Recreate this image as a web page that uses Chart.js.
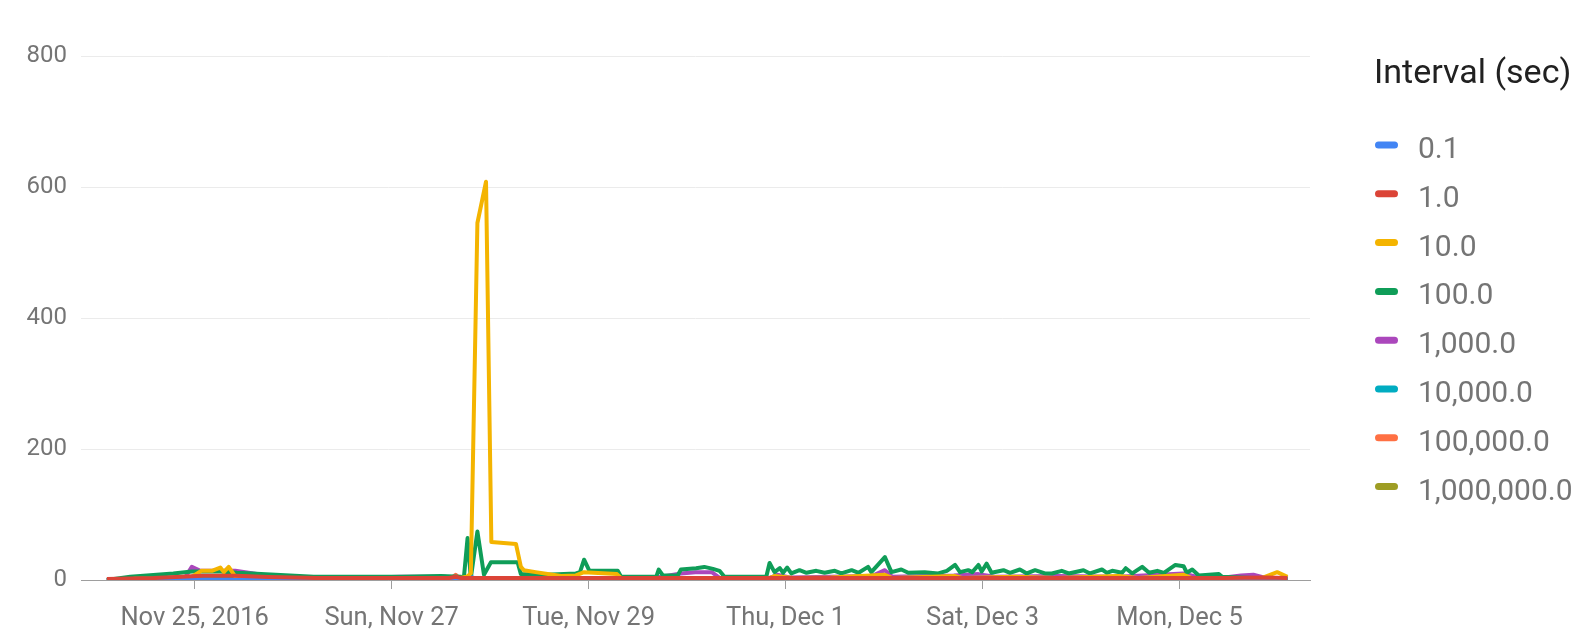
<!DOCTYPE html>
<html><head><meta charset="utf-8">
<script src="https://cdn.jsdelivr.net/npm/chart.js@4"></script>
<style>html,body{margin:0;padding:0;background:#fff}#wrap{width:1590px;height:639px;position:relative}</style>
</head><body><div id="wrap"><canvas id="c"></canvas></div>
<script>
// x values are hours since Nov 25, 2016 00:00
const legendTitle = 'Interval (sec)';
const seriesLabels = ['0.1','1.0','10.0','100.0','1,000.0','10,000.0','100,000.0','1,000,000.0'];
const seriesColors = ['#4285F4','#DB4437','#F4B400','#0F9D58','#AB47BC','#00ACC1','#FF7043','#9E9D24'];
const tickHours = [0, 48, 96, 144, 192, 240];
const tickLabels = ['Nov 25, 2016','Sun, Nov 27','Tue, Nov 29','Thu, Dec 1','Sat, Dec 3','Mon, Dec 5'];
const yTicks = [0, 200, 400, 600, 800];

const hours01 = [-21.4, 30, 60, 66.5, 67.7, 69, 120, 200, 266.3];
const values01 = [0, 0, 0, 0.5, 4, 0.5, 0, 0, 0];

const hours1 = [-21.4, -10, -2, 2, 10, 18, 30, 50, 62, 63.6, 65, 100, 140, 180, 220, 250, 261, 266.3];
const values1 = [1.5, 3, 5.5, 6.5, 6.5, 4.5, 3, 3, 3, 5, 3, 3, 3, 3, 3, 3, 4, 3];

const hours10 = [-14.9, -5, -1, 0.6, 1.6, 4.2, 6.25, 7.1, 8.3, 9.9, 13.6, 30, 50, 63.6, 66.3, 67.3, 68.9, 71.0, 72.3, 78.3, 79.5, 80.2, 83.1, 89.3, 92.9, 94.9, 102.9, 103.9, 115, 118, 125, 140, 141.3, 146, 155, 168.2, 170, 185.3, 187, 200, 210, 225, 230, 241, 243, 250, 260, 263.8, 266.3];
const values10 = [2, 2, 4, 10, 14, 14, 19, 12, 20, 5, 2, 1, 1, 2, 5, 10, 545, 608, 58, 55, 20, 15, 12, 6, 7, 12, 9, 3, 3, 2, 3, 3, 6, 3, 4, 8, 3, 6, 3, 5, 3, 6, 3, 8, 3, 2, 3, 12, 5];

const hours100 = [-21.4, -15.7, -5.2, -0.7, 6.25, 10.3, 20.9, 29, 40.4, 50.2, 60, 64.8, 65.6, 66.5, 67.3, 68.9, 70.5, 72.2, 78.7, 79.5, 85.6, 92.9, 93.9, 94.9, 96.2, 103.1, 103.9, 112.5, 113.1, 114.1, 117.7, 118.5, 122.2, 124.2, 126.3, 127.9, 129.1, 139.3, 140.1, 141.3, 142.6, 143.4, 144.4, 145.4, 147.4, 149.1, 151.5, 153.5, 156.0, 157.6, 160.1, 161.8, 164.1, 164.9, 168.2, 169.8, 172.2, 173.9, 177.9, 181.2, 183.3, 185.3, 186.5, 188.5, 189.5, 191.0, 191.8, 193.0, 194.2, 197.1, 198.7, 201.1, 202.8, 204.8, 207.2, 208.9, 211.3, 213.0, 216.6, 218.2, 221.1, 222.3, 223.6, 226.0, 226.9, 228.5, 230.9, 232.6, 234.6, 236.2, 239.0, 241.0, 241.8, 243.1, 244.7, 249.6, 250.4, 258, 266.3];
const values100 = [0, 5, 10, 13, 13, 11, 7.5, 5, 5, 5, 6, 5, 3, 64, 3, 74, 8, 27, 27, 9, 8, 10, 12, 31, 14, 14, 5, 5, 16, 7, 7, 16, 18, 20, 17, 14, 5, 5, 26, 12, 18, 11, 19, 10, 15, 11, 14, 11, 14, 10, 15, 11, 20, 12, 35, 12, 16, 11, 12, 10, 14, 23, 12, 15, 12, 23, 13, 25, 11, 15, 11, 16, 10, 15, 10, 10, 14, 10, 15, 10, 16, 11, 14, 11, 18, 10, 20, 11, 14, 11, 23, 21, 11, 16, 7, 9, 5, 3, 3];

const hours1000 = [-21.4, -5, -2.3, -0.7, 1.4, 9.9, 16.4, 23.3, 40, 50, 61, 64, 100, 112, 118.5, 122, 126, 128, 140, 142, 145, 165, 168.2, 170, 185, 191, 195, 210, 225, 241, 244, 250, 255, 258, 261, 266.3];
const values1000 = [0, 2, 4, 20, 14, 14, 8, 4, 3, 5, 5, 2, 2, 3, 10, 12, 12, 3, 3, 8, 4, 6, 15, 5, 7, 9, 5, 6, 5, 10, 5, 3, 7, 8, 3, 2];

const hours10000 = [-21.4, -2, 0.6, 10.4, 12, 100, 200, 262, 264, 266.3];
const values10000 = [0, 0.5, 2, 2, 0.5, 0.5, 0.5, 0.5, 3, 1];

const hours100000 = [-21.4, -20, 62, 63.6, 65, 150, 266.3];
const values100000 = [0.5, 0.5, 0.5, 8, 0.5, 0.5, 1];

const hours1000000 = [-21.4, 100, 266.3];
const values1000000 = [0, 0, 0];

const seriesHours = [hours01, hours1, hours10, hours100, hours1000, hours10000, hours100000, hours1000000];
const seriesValues = [values01, values1, values10, values100, values1000, values10000, values100000, values1000000];

const datasets = seriesLabels.map((label, i) => ({
  label: label,
  data: seriesHours[i].map((h, j) => ({x: h, y: seriesValues[i][j]})),
  borderColor: seriesColors[i],
  backgroundColor: seriesColors[i],
  borderWidth: 4,
  pointRadius: 0,
  tension: 0,
  borderJoinStyle: 'round',
  fill: false,
  order: i === 1 ? 0 : i + 1
}));

const sideLegend = {
  id: 'sideLegend',
  afterDraw(chart) {
    const ctx = chart.ctx;
    ctx.save();
    ctx.textBaseline = 'alphabetic';
    ctx.textAlign = 'left';
    ctx.font = '34px Roboto';
    ctx.fillStyle = '#212121';
    ctx.fillText(legendTitle, 1374, 83);
    ctx.font = '30px Roboto';
    chart.data.datasets.forEach((ds, i) => {
      const y = 145 + i * 48.8;
      ctx.fillStyle = ds.borderColor;
      ctx.beginPath();
      ctx.roundRect(1375, y - 3.5, 23, 7, 3.5);
      ctx.fill();
      ctx.fillStyle = '#757575';
      ctx.fillText(ds.label, 1418, y + 13);
    });
    ctx.restore();
  }
};

new Chart(document.getElementById('c'), {
  type: 'line',
  data: { datasets: datasets },
  plugins: [sideLegend],
  options: {
    responsive: true,
    maintainAspectRatio: false,
    animation: false,
    devicePixelRatio: 1,
    layout: { padding: { top: 56, right: 280, bottom: 0, left: 0 } },
    plugins: { legend: { display: false }, tooltip: { enabled: false } },
    font: { family: 'Roboto' },
    scales: {
      x: {
        type: 'linear',
        min: -27.7,
        max: 271.8,
        afterBuildTicks: (scale) => { scale.ticks = tickHours.map(v => ({ value: v })); },
        afterFit: (scale) => { scale.height = 59; },
        ticks: {
          autoSkip: false, maxRotation: 0, minRotation: 0,
          color: '#757575', padding: 14,
          font: { family: 'Roboto', size: 25.5 },
          callback: (v, i) => tickLabels[i]
        },
        grid: { drawOnChartArea: false, drawTicks: true, tickLength: 9, tickColor: '#9e9e9e', color: '#9e9e9e' },
        border: { display: true, color: '#9e9e9e', width: 1 }
      },
      y: {
        min: 0,
        max: 800,
        afterBuildTicks: (scale) => { scale.ticks = yTicks.map(v => ({ value: v })); },
        afterFit: (scale) => { scale.width = 81; },
        ticks: { color: '#757575', padding: 14, font: { family: 'Roboto', size: 24 } },
        grid: { color: (c) => (c.tick && c.tick.value === 0) ? '#9e9e9e' : '#ebebeb', drawTicks: false, lineWidth: 1 },
        border: { display: false }
      }
    }
  }
});
</script>
</body></html>
